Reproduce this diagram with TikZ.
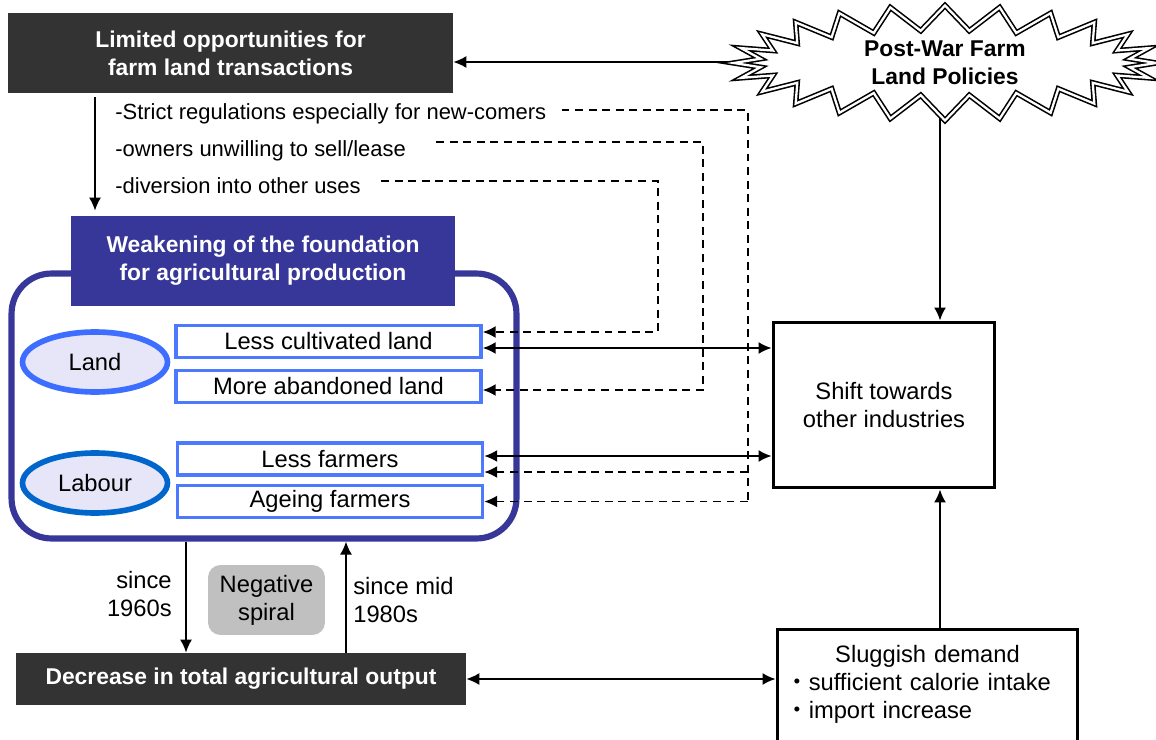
\documentclass[tikz,border=0pt]{standalone}
\usepackage{fontspec}
\setmainfont{Liberation Sans}
\newfontfamily\cjk{Noto Sans CJK JP}
\usetikzlibrary{shapes.geometric,shapes.symbols,arrows.meta,backgrounds}
\definecolor{darkfill}{RGB}{51,51,51}
\definecolor{headblue}{RGB}{55,54,153}
\definecolor{itemblue}{RGB}{77,121,255}
\definecolor{landblue}{RGB}{61,110,255}
\definecolor{labourblue}{RGB}{0,102,204}
\definecolor{ovalfill}{RGB}{230,230,248}
\definecolor{spiralgray}{RGB}{192,192,192}
\tikzset{
	darkbox/.style={fill=darkfill,text=white,font=\fontsize{13}{16}\selectfont\bfseries,align=center,inner sep=0pt},
	itembox/.style={draw=itemblue,line width=2pt,fill=white,minimum width=6.1cm,minimum height=0.64cm,inner sep=0pt},
	oval/.style={ellipse,fill=ovalfill,line width=3.2pt,minimum width=2.9cm,minimum height=1.2cm,inner sep=0pt},
	plainbox/.style={draw=black,line width=1.7pt,fill=white,align=center,inner sep=0pt},
	arr/.style={line width=1pt,-{Latex[length=2.6mm,width=2.4mm]}},
	dblarr/.style={line width=1pt,{Latex[length=2.6mm,width=2.4mm]}-{Latex[length=2.6mm,width=2.4mm]}},
	darr/.style={line width=1pt,dash pattern=on 4.5pt off 3.2pt,-{Latex[length=2.6mm,width=2.4mm]}},
	dsh/.style={line width=1pt,dash pattern=on 4.5pt off 3.2pt},
	listtext/.style={anchor=west,inner sep=0pt,font=\fontsize{12.5}{16}\selectfont}
}
\begin{document}
\begin{tikzpicture}[x=0.02cm,y=-0.02cm,font=\fontsize{13.5}{16}\selectfont]
	\useasboundingbox (0,0) rectangle (1156,740);
	\node[darkbox,minimum width=8.9cm,minimum height=1.6cm] (limited) at (230.5,53) {Limited opportunities for\\farm land transactions};
	\node[starburst,random starburst=0,starburst points=24,starburst point height=0.5cm,minimum width=8.45cm,minimum height=2.3cm,inner sep=0pt,
		draw,double,double distance=1.3pt,line width=0.9pt,fill=white,align=center,
		font=\fontsize{13}{16}\selectfont\bfseries] (policy) at (945,63) {Post-War Farm\\Land Policies};
	\node[listtext] (strict) at (115,114) {-Strict regulations especially for new-comers};
	\node[listtext] (owners) at (115,151) {-owners unwilling to sell/lease};
	\node[listtext] (divert) at (115,186) {-diversion into other uses};
	\node[draw=headblue,line width=3.5pt,rounded corners=0.8cm,minimum width=10.1cm,minimum height=5.3cm] (frame) at (264,406) {};
	\node[fill=headblue,text=white,font=\fontsize{13}{16}\selectfont\bfseries,align=center,
		minimum width=7.68cm,minimum height=1.8cm,inner sep=0pt] (weaken) at (263,261) {Weakening of the foundation\\for agricultural production};
	\node[oval,draw=landblue] (land) at (95,362) {Land};
	\node[oval,draw=labourblue] (labour) at (95,483) {Labour};
	\node[itembox] (cultiv) at (328.5,341.5) {Less cultivated land};
	\node[itembox] (abandon) at (328.5,386.5) {More abandoned land};
	\node[itembox] (lessfarm) at (330,459) {Less farmers};
	\node[itembox] (ageing) at (330,501.5) {Ageing farmers};
	\node[plainbox,minimum width=4.44cm,minimum height=3.32cm] (shift) at (884,405) {Shift towards\\other industries};
	\node[plainbox,anchor=north,text width=5.7cm,align=left,inner xsep=0.16cm,inner ysep=9pt,text depth=1.8cm] (demand) at (927.5,628)
		{\hfill Sluggish demand\hfill\mbox{}\\{\cjk ・}sufficient calorie intake\\{\cjk ・}import increase};
	\node[darkbox,minimum width=9cm,minimum height=1.04cm] (output) at (241,679) {Decrease in total agricultural output};
	\node[fill=spiralgray,rounded corners=0.25cm,minimum width=2.34cm,minimum height=1.4cm,align=center,inner sep=0pt] (spiral) at (266.5,600) {Negative\\spiral};
	\node[anchor=east,align=right,inner sep=0pt] (since60) at (172,594) {since\\1960s};
	\node[anchor=west,align=left,inner sep=0pt] (since80) at (353,600) {since mid\\1980s};
	\coordinate (bendA) at (748,110);
	\coordinate (bendB) at (703,142);
	\coordinate (bendC) at (658,181);
	\begin{scope}[on background layer]
		\draw[arr] ([yshift=0.02cm]policy.center) -- ([yshift=0.02cm]policy.center -| limited.east);
		\draw[arr] ([xshift=-0.1cm]policy.center) -- ([xshift=-0.1cm]policy.center |- shift.north);
	\end{scope}
	\draw[arr] ([yshift=-0.08cm]limited.south -| land) -- ([yshift=0.1cm]weaken.north -| land);
	\draw[dsh] ([xshift=0.3cm]strict.east |- bendA) -- (bendA) -- (bendA |- ageing.east);
	\draw[darr] (bendA |- ageing.east) -- (ageing.east);
	\draw[darr] ([yshift=-0.26cm]bendA |- lessfarm.east) -- ([yshift=-0.26cm]lessfarm.east);
	\draw[darr] ([xshift=0.6cm]owners.east |- bendB) -- (bendB) |- ([yshift=-0.07cm]abandon.east);
	\draw[darr] ([xshift=0.4cm]divert.east |- bendC) -- (bendC) |- ([yshift=0.19cm]cultiv.east);
	\draw[dblarr] ([yshift=-0.13cm]cultiv.east) -- ([yshift=-0.13cm]cultiv.east -| shift.west);
	\draw[dblarr] ([yshift=0.06cm]lessfarm.east) -- ([yshift=0.06cm]lessfarm.east -| shift.west);
	\draw[arr] ([xshift=-0.1cm]policy.center |- demand.north) -- ([xshift=-0.1cm]policy.center |- shift.south);
	\draw[dblarr] (output.east) -- (output.east -| demand.west);
	\draw[arr] ([xshift=-1.56cm]frame.south) -- ([xshift=-1.56cm]frame.south |- output.north);
	\draw[arr] ([xshift=1.64cm]frame.south |- output.north) -- ([xshift=1.64cm]frame.south);
\end{tikzpicture}
\end{document}
